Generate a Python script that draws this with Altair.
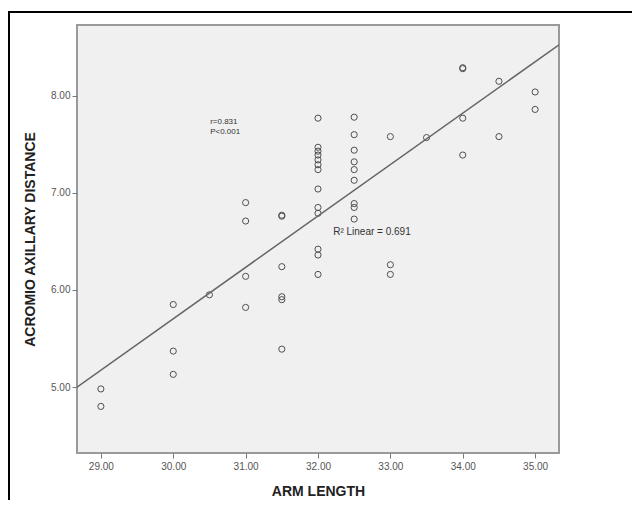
import altair as alt
import pandas as pd

# ---- data ----
arm_length = (
    [29.0] * 2 + [30.0] * 3 + [30.5] + [31.0] * 4 + [31.5] * 6 + [32.0] * 13
    + [32.5] * 9 + [33.0] * 3 + [33.5] + [34.0] * 4 + [34.5] * 2 + [35.0] * 2
)
acromio_axillary = [
    4.98, 4.80,
    5.85, 5.37, 5.13,
    5.95,
    6.90, 6.71, 6.14, 5.82,
    6.77, 6.76, 6.24, 5.93, 5.90, 5.39,
    7.77, 7.47, 7.43, 7.39, 7.34, 7.29, 7.24, 7.04, 6.85, 6.79, 6.42, 6.36, 6.16,
    7.78, 7.60, 7.44, 7.32, 7.24, 7.13, 6.89, 6.85, 6.73,
    7.58, 6.26, 6.16,
    7.57,
    8.29, 8.28, 7.77, 7.39,
    8.15, 7.58,
    8.04, 7.86,
]
x_ticks = [29, 30, 31, 32, 33, 34, 35]
y_ticks = [5, 6, 7, 8]
x_domain = [28.67, 35.33]
y_domain = [4.32, 8.73]
stats_lines = ["r=0.831", "P<0.001"]
r2_label = "R\u00b2 Linear = 0.691"

df = pd.DataFrame({"arm": arm_length, "aad": acromio_axillary})

FONT = "Liberation Sans"
xs = alt.Scale(domain=x_domain, nice=False, zero=False)
ys = alt.Scale(domain=y_domain, nice=False, zero=False)

x_axis = alt.Axis(
    values=x_ticks, format=".2f", title="ARM LENGTH", domain=False, grid=False,
    tickColor="#777", tickSize=5, labelColor="#555", labelFontSize=10,
    labelFont=FONT, labelPadding=3, titleFont=FONT, titleFontSize=14,
    titleFontWeight="bold", titleColor="#222", titleY=38, titleBaseline="middle",
)
y_axis = alt.Axis(
    values=y_ticks, format=".2f", title="ACROMIO AXILLARY DISTANCE", domain=False,
    grid=False, tickColor="#777", tickSize=5, labelColor="#555", labelFontSize=10,
    labelFont=FONT, labelPadding=2, titleFont=FONT, titleFontSize=14,
    titleFontWeight="bold", titleColor="#222", titleX=-47, titleBaseline="middle",
)

points = alt.Chart(df).mark_point(
    shape="circle", filled=False, size=38, color="#505050", strokeWidth=1, opacity=1
).encode(
    x=alt.X("arm:Q", scale=xs, axis=x_axis),
    y=alt.Y("aad:Q", scale=ys, axis=y_axis),
)

fit = alt.Chart(df).transform_regression(
    "arm", "aad", extent=x_domain
).mark_line(color="#666", strokeWidth=1.5, clip=True).encode(
    x=alt.X("arm:Q", scale=xs),
    y=alt.Y("aad:Q", scale=ys),
)

stats = alt.Chart(pd.DataFrame({"t": stats_lines, "k": [0, 1]})).transform_calculate(
    yy="7.73 - datum.k * 0.10"
).mark_text(align="left", baseline="middle", font=FONT, fontSize=8, color="#333").encode(
    x=alt.datum(30.51), y=alt.Y("yy:Q", scale=ys), text="t:N"
)

r2 = alt.Chart(pd.DataFrame({"t": [r2_label]})).mark_text(
    align="left", baseline="middle", font=FONT, fontSize=10, color="#333"
).encode(x=alt.datum(32.21), y=alt.datum(6.60), text="t:N")

frame_top = alt.Chart(pd.DataFrame({"a": [0]})).mark_rule(color="black", strokeWidth=2).encode(
    x=alt.value(-69), x2=alt.value(560), y=alt.value(-13)
)
frame_left = alt.Chart(pd.DataFrame({"a": [0]})).mark_rule(color="black", strokeWidth=2).encode(
    x=alt.value(-68), y=alt.value(-14), y2=alt.value(485)
)

chart = alt.layer(points, fit, stats, r2, frame_top, frame_left).properties(
    width=482, height=428,
    autosize=alt.AutoSizeParams(type="none"),
    padding={"left": 69, "top": 17, "right": 73, "bottom": 47},
    background="white",
).configure_view(
    fill="#f0f0f0", stroke="#9a9a9a", strokeWidth=2
)

chart.save("out.html", embed_options={"renderer": "svg", "actions": False})
